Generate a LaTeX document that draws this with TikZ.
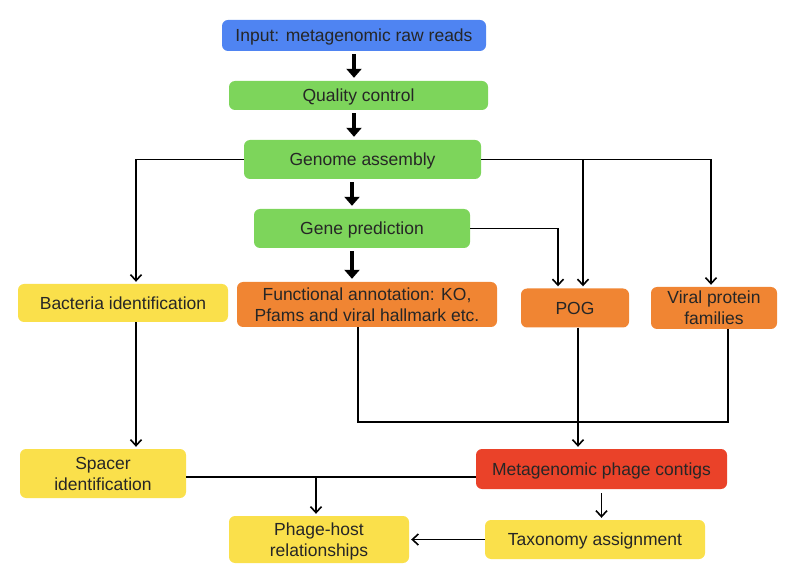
\documentclass[tikz,border=0pt]{standalone}
\usepackage{fontspec}
\setmainfont{Liberation Sans}
\usetikzlibrary{arrows.meta}

\definecolor{inblue}{HTML}{4F84F2}
\definecolor{stepgreen}{HTML}{7DD55B}
\definecolor{resyellow}{HTML}{FAE04B}
\definecolor{annorange}{HTML}{F08533}
\definecolor{phagered}{HTML}{EA4229}

\begin{document}
\begin{tikzpicture}[x=1pt,y=-1pt,
  box/.style={rounded corners=6pt, inner sep=0pt, align=center,
    text depth=0pt, text=black!85, font=\fontsize{17.5}{21}\selectfont},
  fat arrow/.style={line width=4.5pt, shorten <=3pt, shorten >=3pt,
    -{Triangle[width=15pt,length=9pt]}},
  thin line/.style={line width=1.6pt},
  thin arrow/.style={line width=1.6pt, shorten >=2pt,
    -{Straight Barb[length=6pt,width=11pt]}}]
\useasboundingbox (0,0) rectangle (796,580);

% main pipeline
\node[box, fill=inblue, minimum width=264pt, minimum height=31pt] (input) at (354,35.5) {Input: metagenomic raw reads};
\node[box, fill=stepgreen, minimum width=259pt, minimum height=29pt] (qc) at (358.5,95.5) {Quality control};
\node[box, fill=stepgreen, minimum width=237pt, minimum height=39pt] (ga) at (362.5,159.5) {Genome assembly};
\node[box, fill=stepgreen, minimum width=216pt, minimum height=39pt] (gp) at (362,228.5) {Gene prediction};

% annotation row
\node[box, fill=resyellow, minimum width=210pt, minimum height=38pt] (bact) at (123,303) {Bacteria identification};
\node[box, fill=annorange, minimum width=260pt, minimum height=45pt] (fa) at (367,304.5) {Functional annotation: KO,\\Pfams and viral hallmark etc.};
\node[box, fill=annorange, minimum width=108pt, minimum height=39pt] (pog) at (575,308) {POG};
\node[box, fill=annorange, minimum width=126pt, minimum height=42pt] (vpf) at (714,308) {Viral protein\\families};

% results
\node[box, fill=resyellow, minimum width=166pt, minimum height=49pt] (spacer) at (103,473.5) {Spacer\\identification};
\node[box, fill=phagered, minimum width=251pt, minimum height=40pt] (mpc) at (601.5,469) {Metagenomic phage contigs};
\node[box, fill=resyellow, minimum width=180pt, minimum height=47pt] (phr) at (319,539.5) {Phage-host\\relationships};
\node[box, fill=resyellow, minimum width=220pt, minimum height=39pt] (tax) at (595,539.5) {Taxonomy assignment};

% thick arrows
\draw[fat arrow] (input.south) -- (input.south |- qc.north);
\draw[fat arrow] (qc.south -| input.south) -- (ga.north -| input.south);
\draw[fat arrow] ([xshift=-2pt]ga.south -| input.south) -- ([xshift=-2pt]gp.north -| input.south);
\draw[fat arrow] ([xshift=-2pt]gp.south -| input.south) -- ([xshift=-2pt]fa.north -| input.south);

% branches from assembly and prediction
\coordinate (bactin) at ([xshift=13pt]bact.north);
\coordinate (pogleft) at ([xshift=-17pt]pog.north);
\coordinate (pogright) at ([xshift=8pt]pog.north);
\coordinate (vpfin) at ([xshift=-3pt]vpf.north);
\draw[thin arrow] (ga.west) -| (bactin);
\draw[thin arrow] (ga.east) -| (vpfin);
\draw[thin arrow] (ga.east -| pogright) -- (pogright);
\draw[thin arrow] (gp.east) -| (pogleft);

% merge into phage contigs
\coordinate (merge) at (578,422);
\draw[thin line] ([xshift=-9pt]fa.south) |- (merge) -| ([xshift=14pt]vpf.south);
\draw[thin arrow] ([xshift=3pt]pog.south) -- ([xshift=3pt]pog.south |- mpc.north);

% lower part
\draw[thin arrow] ([xshift=13pt]bact.south) -- ([xshift=13pt]bact.south |- spacer.north);
\coordinate (hostline) at (316,477);
\draw[thin line] (spacer.east |- hostline) -- (mpc.west |- hostline);
\draw[thin arrow] (hostline) -- (hostline |- phr.north);
\draw[thin arrow] (mpc.south) ++(0,4) -- (mpc.south |- tax.north);
\draw[thin arrow] (tax.west) -- (phr.east);
\end{tikzpicture}
\end{document}
